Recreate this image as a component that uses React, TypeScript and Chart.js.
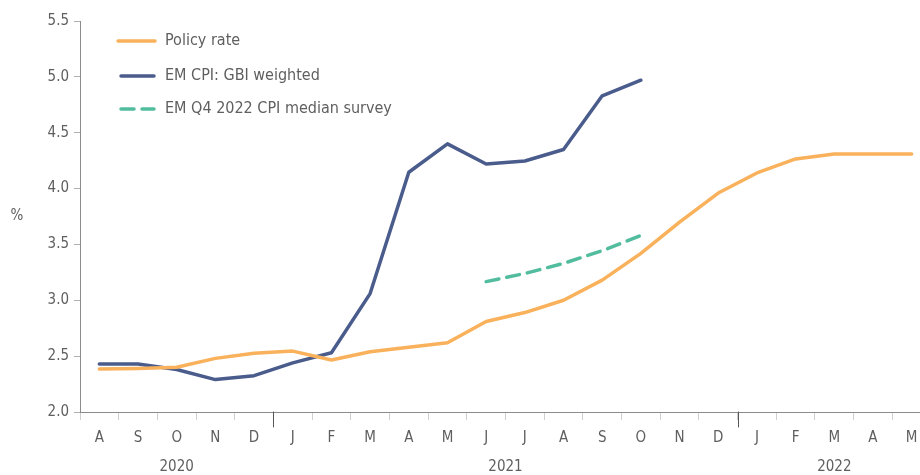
import React, { useEffect, useRef } from "react";
import { Chart, registerables } from "chart.js";

Chart.register(...registerables);

const months = ["A","S","O","N","D","J","F","M","A","M","J","J","A","S","O","N","D","J","F","M","A","M"];
const years = ["2020", "2021", "2022"];
const yearStartIdx = [0, 5, 17];

const policyRate = [2.385, 2.39, 2.40, 2.48, 2.525, 2.545, 2.465, 2.54, 2.58, 2.62, 2.81, 2.89, 3.00, 3.18, 3.42, 3.70, 3.96, 4.14, 4.265, 4.31, 4.31, 4.31];
const emCpi = [2.43, 2.43, 2.38, 2.29, 2.325, 2.44, 2.53, 3.06, 4.146, 4.40, 4.22, 4.247, 4.35, 4.83, 4.97, null, null, null, null, null, null, null];
const survey = [null, null, null, null, null, null, null, null, null, null, 3.167, 3.24, 3.33, 3.444, 3.58, null, null, null, null, null, null, null];

const seriesNames = ["Policy rate", "EM CPI: GBI weighted", "EM Q4 2022 CPI median survey"];
const seriesColors = ["#F9B15B", "#4A5C8C", "#52BC9E"];

const FONT = "'Liberation Sans Narrow', 'DejaVu Sans Condensed', 'Roboto', sans-serif";
const TEXT = "#5f5f5f";

const overlay = {
  id: "overlay",
  afterDraw(chart: any) {
    const ctx = chart.ctx;
    const x = chart.scales.x;
    const area = chart.chartArea;
    ctx.save();
    // legend
    const lx0 = 118, lx1 = 155, tx = 165;
    const ly = [41, 76, 109];
    ctx.lineCap = "round";
    ctx.lineWidth = 3.5;
    for (let i = 0; i < 3; i++) {
      ctx.strokeStyle = seriesColors[i];
      ctx.setLineDash(i === 2 ? [13, 8] : []);
      ctx.beginPath();
      ctx.moveTo(i === 0 ? lx0 : 121, ly[i]);
      ctx.lineTo(lx1 - (i === 0 ? 0 : 1), ly[i]);
      ctx.stroke();
    }
    ctx.setLineDash([]);
    ctx.fillStyle = TEXT;
    ctx.font = `16px ${FONT}`;
    ctx.textAlign = "left";
    ctx.textBaseline = "middle";
    for (let i = 0; i < 3; i++) ctx.fillText(seriesNames[i], tx, ly[i]);
    // % label
    ctx.font = `15px ${FONT}`;
    ctx.textAlign = "center";
    ctx.fillText("%", 17, 216);
    // year separators and labels
    const half = (x.getPixelForValue(1) - x.getPixelForValue(0)) / 2;
    const bounds = yearStartIdx.map((i) => x.getPixelForValue(i) - half);
    bounds.push(area.right);
    ctx.strokeStyle = "#555";
    ctx.lineWidth = 1;
    for (let k = 1; k < yearStartIdx.length; k++) {
      const bx = Math.round(bounds[k]) + 0.5;
      ctx.beginPath();
      ctx.moveTo(bx, area.bottom);
      ctx.lineTo(bx, area.bottom + 15);
      ctx.stroke();
    }
    ctx.fillStyle = TEXT;
    ctx.font = `15px ${FONT}`;
    for (let k = 0; k < years.length; k++) {
      ctx.fillText(years[k], (bounds[k] + bounds[k + 1]) / 2, 467);
    }
    ctx.restore();
  },
};

export default function App() {
  const ref = useRef<HTMLCanvasElement>(null);
  useEffect(() => {
    if (!ref.current) return;
    const chart = new Chart(ref.current, {
      type: "line",
      data: {
        labels: months,
        datasets: [
          { label: seriesNames[0], data: policyRate, borderColor: seriesColors[0], borderWidth: 3.5, pointRadius: 0, borderCapStyle: "round", borderJoinStyle: "round", tension: 0 },
          { label: seriesNames[1], data: emCpi as any, borderColor: seriesColors[1], borderWidth: 3.5, pointRadius: 0, borderCapStyle: "round", borderJoinStyle: "round", tension: 0 },
          { label: seriesNames[2], data: survey as any, borderColor: seriesColors[2], borderWidth: 3.5, pointRadius: 0, borderDash: [13, 8], borderCapStyle: "round", borderJoinStyle: "round", tension: 0 },
        ],
      },
      options: {
        animation: false,
        responsive: false,
        layout: { padding: { top: 21, right: 4, left: 0, bottom: 0 } },
        plugins: { legend: { display: false }, tooltip: { enabled: false } },
        scales: {
          x: {
            offset: true,
            grid: { offset: true, drawOnChartArea: false, drawTicks: true, tickLength: 8, color: "#d0d0d0" },
            border: { display: true, color: "#8c8c8c", width: 1 },
            ticks: { color: TEXT, font: { family: FONT, size: 15 }, padding: 9, maxRotation: 0, autoSkip: false },
            afterFit: (s: any) => { s.height = 63; },
          },
          y: {
            min: 2,
            max: 5.5,
            grid: { drawOnChartArea: false, drawTicks: true, tickLength: 6, color: "#b0b0b0" },
            border: { display: true, color: "#8c8c8c", width: 1 },
            ticks: { stepSize: 0.5, color: TEXT, font: { family: FONT, size: 15 }, padding: 5, callback: (v: any) => Number(v).toFixed(1) },
            afterFit: (s: any) => { s.width = 80; },
          },
        },
      },
      plugins: [overlay],
    });
    return () => chart.destroy();
  }, []);
  return (
    <div style={{ position: "fixed", left: 0, top: 0, width: 920, height: 475, overflow: "hidden", background: "#fff" }}>
      <canvas ref={ref} width={935} height={475} style={{ width: 935, height: 475, display: "block" }} />
    </div>
  );
}
